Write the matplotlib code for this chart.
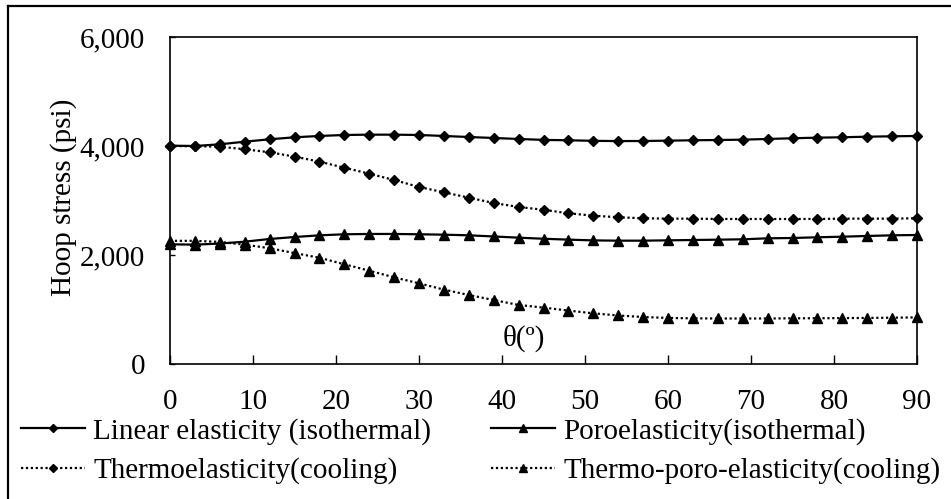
import matplotlib
matplotlib.use('Agg')
import matplotlib.pyplot as plt
from matplotlib.lines import Line2D
from matplotlib.ticker import StrMethodFormatter

plt.rcParams['font.family'] = ['Liberation Serif', 'DejaVu Serif']

# angle around the wellbore, degrees
theta = [0, 3, 6, 9, 12, 15, 18, 21, 24, 27, 30, 33, 36, 39, 42, 45,
         48, 51, 54, 57, 60, 63, 66, 69, 72, 75, 78, 81, 84, 87, 90]

# hoop stress, psi
linear_iso = [4006, 4000, 4031, 4079, 4123, 4160, 4184, 4202, 4208, 4208, 4202,
              4184, 4165, 4147, 4129, 4112, 4105, 4095, 4090, 4092, 4098, 4105,
              4110, 4116, 4129, 4142, 4153, 4160, 4171, 4178, 4184]
poro_iso = [2196, 2190, 2210, 2244, 2294, 2330, 2361, 2380, 2386, 2386, 2380,
            2373, 2361, 2340, 2318, 2298, 2282, 2268, 2263, 2263, 2269, 2275,
            2281, 2288, 2306, 2312, 2325, 2336, 2349, 2361, 2367]
thermo_cool = [4000, 3995, 3988, 3940, 3885, 3805, 3713, 3602, 3492, 3376, 3248,
               3150, 3052, 2954, 2881, 2830, 2765, 2722, 2692, 2674, 2667, 2667,
               2661, 2661, 2661, 2661, 2661, 2667, 2667, 2667, 2674]
thermo_poro_cool = [2260, 2260, 2240, 2190, 2125, 2035, 1950, 1830, 1712, 1590, 1480,
                    1365, 1266, 1174, 1083, 1035, 980, 930, 890, 862, 845, 838,
                    835, 835, 835, 838, 840, 842, 845, 850, 855]

labels = ['Linear elasticity (isothermal)', 'Poroelasticity(isothermal)',
          'Thermoelasticity(cooling)', 'Thermo-poro-elasticity(cooling)']
y_ticks = [0, 2000, 4000, 6000]
x_ticks = [0, 10, 20, 30, 40, 50, 60, 70, 80, 90]

W, H = 951, 499
fig = plt.figure(figsize=(W / 100, H / 100), dpi=100)
ax = fig.add_axes([170 / W, 1 - 364 / H, (917 - 170) / W, (364 - 37) / H])

dotted = (0, (1, 1.2))
l1, = ax.plot(theta, linear_iso, color='black', lw=1.6, marker='D', ms=5, clip_on=False)
l2, = ax.plot(theta, poro_iso, color='black', lw=1.6, marker='^', ms=7.5, clip_on=False)
l3, = ax.plot(theta, thermo_cool, color='black', lw=1.6, ls=dotted, marker='D', ms=5, clip_on=False)
l4, = ax.plot(theta, thermo_poro_cool, color='black', lw=1.6, ls=dotted, marker='^', ms=7.5, clip_on=False)

ax.set_xlim(0, 90)
ax.set_ylim(0, 6000)
ax.set_xticks(x_ticks)
ax.set_yticks(y_ticks)
ax.yaxis.set_major_formatter(StrMethodFormatter('{x:,.0f}'))
ax.tick_params(axis='x', direction='in', length=6.5, width=1, pad=18, labelsize=21)
ax.tick_params(axis='y', direction='in', length=3.5, width=1, pad=18, labelsize=21)
for sp in ax.spines.values():
    sp.set_linewidth(1.2)

ax.text(0.474, 0.08, 'θ(º)', transform=ax.transAxes, ha='center', va='center', fontsize=21)
fig.text(64 / W, 1 - 197 / H, 'Hoop stress (psi)', rotation=90, ha='center', va='center', fontsize=21)

# legend split in two columns placed by hand
leg_kw = dict(frameon=False, fontsize=21, handlelength=2.2, handletextpad=0.28,
              labelspacing=0.42, borderpad=0, borderaxespad=0, markerscale=0.85,
              loc='upper left')
fig.legend([l1, l3], [labels[0], labels[2]], bbox_to_anchor=(21 / W, 1 - 418 / H), **leg_kw)
fig.legend([l2, l4], [labels[1], labels[3]], bbox_to_anchor=(491 / W, 1 - 418 / H), **leg_kw)

# outer frame lines (top and left only visible)
fig.add_artist(Line2D([8 / W, 1], [1 - 6 / H, 1 - 6 / H], color='black', lw=1.6))
fig.add_artist(Line2D([8 / W, 8 / W], [0, 1 - 6 / H], color='black', lw=1.6))

fig.savefig('out.png', dpi=100)
